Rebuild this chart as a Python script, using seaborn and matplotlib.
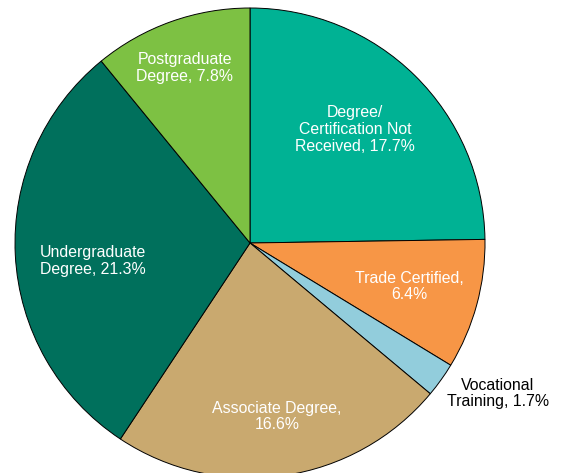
import numpy as np
import matplotlib
matplotlib.use("Agg")
import matplotlib.pyplot as plt
import seaborn as sns

# slice values, clockwise from 12 o'clock
categories = ["Degree/\nCertification Not\nReceived, ", "Trade Certified,\n", "Vocational\nTraining, ",
              "Associate Degree,\n", "Undergraduate\nDegree, ", "Postgraduate\nDegree, "]
shares = [17.7, 6.4, 1.7, 16.6, 21.3, 7.8]
colors = ["#00B294", "#F79646", "#92CDDC", "#C9A96F", "#00705C", "#7DC143"]

sns.set_theme(style="white")
plt.rcParams['font.family'] = ['Liberation Sans', 'DejaVu Sans']

fig = plt.figure(figsize=(5.61, 4.73), dpi=100)
ax = fig.add_axes([0, 0, 1, 1])

ax.pie(shares, colors=colors, startangle=90, counterclock=False, radius=1,
       wedgeprops={'edgecolor': 'black', 'linewidth': 0.7})

# label positions in data units (pie radius = 1)
label_pos = [(0.447, 0.483), (0.677, -0.185), (1.055, -0.640),
             (0.115, -0.738), (-0.668, -0.078), (-0.277, 0.743)]
for cat, val, (x, y) in zip(categories, shares, label_pos):
    col = 'black' if cat.startswith("Vocational") else 'white'
    ax.text(x, y, cat + f"{val}%", ha='center', va='center', color=col, fontsize=11.4,
            linespacing=1.15)

# place pie: centre at (250, 243) px, radius 235 px
ax.set_xlim(-250 / 235, (561 - 250) / 235)
ax.set_ylim(-(473 - 243) / 235, 243 / 235)
ax.set_aspect('equal')
ax.axis('off')

fig.savefig("out.png", dpi=100)
